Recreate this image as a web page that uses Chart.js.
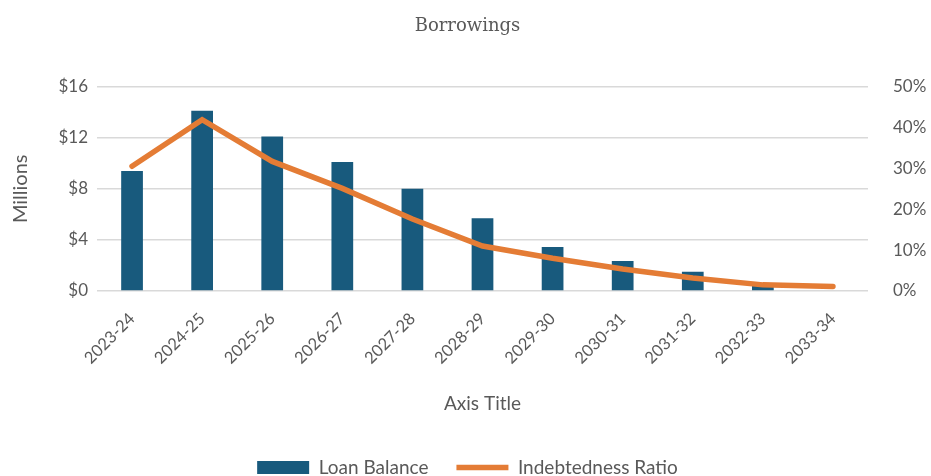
<!DOCTYPE html>
<html>
<head>
<meta charset="utf-8">
<script src="https://cdn.jsdelivr.net/npm/chart.js@4/dist/chart.umd.min.js"></script>
<style>
  html, body { margin: 0; padding: 0; background: #fff; }
  #wrap { width: 931px; height: 476px; }
</style>
</head>
<body>
<div id="wrap"><canvas id="borrowChart" width="931" height="476"></canvas></div>
<script>
// Chart data
const years = ["2023-24", "2024-25", "2025-26", "2026-27", "2027-28", "2028-29",
  "2029-30", "2030-31", "2031-32", "2032-33", "2033-34"];
const loanBalance = [9.4, 14.1, 12.1, 10.1, 8.0, 5.7, 3.45, 2.35, 1.5, 0.4, 0];
const indebtednessRatio = [30.5, 41.9, 31.7, 25.1, 17.6, 11.0, 8.0, 5.4, 3.2, 1.5, 1.1];
const leftTicks = [0, 4, 8, 12, 16];
const rightTicks = [0, 10, 20, 30, 40, 50];

const grey = "#595959";
const font = "Lato, 'Open Sans', sans-serif";

const ctx = document.getElementById("borrowChart").getContext("2d");

new Chart(ctx, {
  type: "bar",
  data: {
    labels: years,
    datasets: [
      {
        type: "line",
        label: "Indebtedness Ratio",
        data: indebtednessRatio,
        yAxisID: "yRatio",
        borderColor: "#E47C35",
        backgroundColor: "#E47C35",
        borderWidth: 5.5,
        borderCapStyle: "round",
        pointRadius: 0,
        pointStyle: "line",
        tension: 0,
        order: 1,
      },
      {
        label: "Loan Balance",
        data: loanBalance,
        yAxisID: "yLoan",
        backgroundColor: "#185A7D",
        barPercentage: 0.31,
        categoryPercentage: 1,
        order: 2,
      },
    ],
  },
  options: {
    responsive: false,
    animation: false,
    layout: { padding: { left: 4, right: 0, top: 10, bottom: -11 } },
    plugins: {
      title: {
        display: true,
        text: "Borrowings",
        color: grey,
        font: { family: "'DejaVu Serif', serif", size: 18, weight: "normal" },
        padding: { top: 6, bottom: 49 },
      },
      legend: {
        position: "bottom",
        reverse: true,
        labels: {
          color: grey,
          font: { family: font, size: 19 },
          usePointStyle: true,
          pointStyleWidth: 52,
          boxHeight: 13,
          padding: 28,
          generateLabels(chart) {
            const items = Chart.defaults.plugins.legend.labels.generateLabels(chart);
            items.forEach((it) => {
              it.pointStyle = it.datasetIndex === 1 ? "rect" : "line";
            });
            return items;
          },
        },
      },
      tooltip: { enabled: false },
    },
    scales: {
      x: {
        grid: { display: false },
        border: { display: false },
        afterFit(axis) {
          axis.height = 139;
        },
        ticks: {
          color: grey,
          font: { family: font, size: 16.5 },
          minRotation: 45,
          maxRotation: 45,
          padding: 10,
        },
        title: {
          display: true,
          text: "Axis Title",
          color: grey,
          font: { family: font, size: 19 },
          padding: { top: 20, bottom: 15 },
        },
      },
      yLoan: {
        position: "left",
        min: 0,
        max: 16,
        afterBuildTicks(axis) {
          axis.ticks = leftTicks.map((v) => ({ value: v }));
        },
        afterFit(axis) {
          axis.width = 93;
        },
        grid: { color: "#D9D9D9", lineWidth: 1.5, drawTicks: false },
        border: { display: false },
        ticks: {
          color: grey,
          font: { family: font, size: 17 },
          padding: 9,
          callback: (v) => "$" + v,
        },
        title: {
          display: true,
          text: "Millions",
          color: grey,
          font: { family: font, size: 20 },
          padding: { top: 5, bottom: 10 },
        },
      },
      yRatio: {
        position: "right",
        min: 0,
        max: 50,
        afterBuildTicks(axis) {
          axis.ticks = rightTicks.map((v) => ({ value: v }));
        },
        afterFit(axis) {
          axis.width = 63;
        },
        grid: { display: false },
        border: { display: false },
        ticks: {
          color: grey,
          font: { family: font, size: 17 },
          padding: 17,
          callback: (v) => v + "%",
        },
      },
    },
  },
});
</script>
</body>
</html>
